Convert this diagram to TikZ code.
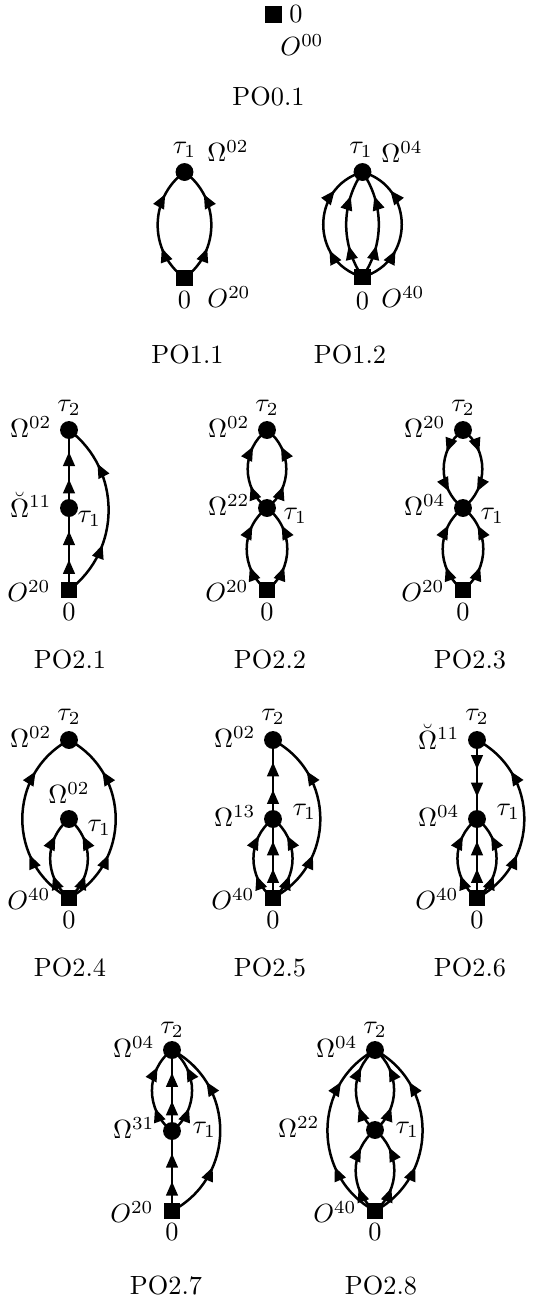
\documentclass[tikz,border=0pt]{standalone}
\usetikzlibrary{arrows.meta,decorations.markings}
\tikzset{
  dotnode/.style={circle,fill=black,inner sep=0pt,minimum size=6.8pt},
  sqnode/.style={rectangle,fill=black,inner sep=0pt,minimum size=6.4pt},
  lab/.style={inner sep=0pt},
  fl/.style={line width=0.95pt, postaction={decorate}, decoration={markings,
     mark=at position 0.31 with {\arrow{Triangle[length=5.4pt,width=4.4pt]}},
     mark=at position 0.76 with {\arrow{Triangle[length=5.4pt,width=4.4pt]}}}},
  flst/.style={line width=0.95pt, postaction={decorate}, decoration={markings,
     mark=at position 0.37 with {\arrow{Triangle[length=5.4pt,width=4.4pt]}},
     mark=at position 0.72 with {\arrow{Triangle[length=5.4pt,width=4.4pt]}}}},
}
% circular-looking arcs: #1 from, #2 to, #3 bend angle, #4 looseness
\newcommand{\arcL}[4]{\draw[fl] (#1.center) to[bend left=#3,looseness=#4] (#2.center);}
\newcommand{\arcR}[4]{\draw[fl] (#1.center) to[bend right=#3,looseness=#4] (#2.center);}
\newcommand{\strline}[2]{\draw[flst] (#1.center) -- (#2.center);}
\begin{document}
\begin{tikzpicture}[x=0.38pt,y=0.38pt]
\useasboundingbox (0,0) rectangle (536,-1302);

% PO0.1
\node[sqnode] (s0) at (273.5,-14.5) {};
\node[lab] (z0) at (296,-14) {$0$};
\node[lab] (o0) at (302,-45) {$O^{00}$};
\node[lab] (p01) at (268.5,-97) {PO0.1};

% PO1.1
\node[dotnode] (c1) at (184.5,-172) {};
\node[sqnode] (s1) at (184.5,-278) {};
\node[lab] at (184.5,-150) {$\tau_1$};
\node[lab] at (228,-151) {$\Omega^{02}$};
\node[lab] at (184.5,-300) {$0$};
\node[lab] at (229,-297) {$O^{20}$};
\node[lab] at (187.5,-355) {PO1.1};
\arcL{s1}{c1}{54}{1.07}
\arcR{s1}{c1}{54}{1.07}

% PO1.2
\node[dotnode] (c2) at (362.5,-172) {};
\node[sqnode] (s2) at (362.5,-277) {};
\node[lab] at (361,-150) {$\tau_1$};
\node[lab] at (402,-152) {$\Omega^{04}$};
\node[lab] at (362.5,-301) {$0$};
\node[lab] at (403,-297) {$O^{40}$};
\node[lab] at (350,-355) {PO1.2};
\arcL{s2}{c2}{74}{1.33}
\arcR{s2}{c2}{74}{1.33}
\arcL{s2}{c2}{34}{0.95}
\arcR{s2}{c2}{34}{0.95}

% PO2.1
\node[dotnode] (at) at (69,-430) {};
\node[dotnode] (am) at (69,-508) {};
\node[sqnode] (as) at (69,-590) {};
\node[lab] at (69,-408) {$\tau_2$};
\node[lab,anchor=east] at (52,-427) {$\Omega^{02}$};
\node[lab,anchor=east] at (52,-505) {$\breve{\Omega}^{11}$};
\node[lab,anchor=west] at (77,-519) {$\tau_1$};
\node[lab,anchor=east] at (51,-591) {$O^{20}$};
\node[lab] at (69,-612) {$0$};
\node[lab] at (70,-660) {PO2.1};
\strline{as}{am}
\strline{am}{at}
\arcR{as}{at}{53}{1.06}

% PO2.2
\node[dotnode] (bt) at (267,-430) {};
\node[dotnode] (bm) at (267,-508) {};
\node[sqnode] (bs) at (267,-590) {};
\node[lab] at (267,-408) {$\tau_2$};
\node[lab,anchor=east] at (250,-427) {$\Omega^{02}$};
\node[lab,anchor=east] at (250,-505) {$\Omega^{22}$};
\node[lab,anchor=west] at (283,-516) {$\tau_1$};
\node[lab,anchor=east] at (249,-591) {$O^{20}$};
\node[lab] at (267,-612) {$0$};
\node[lab] at (270,-660) {PO2.2};
\arcL{bs}{bm}{53}{1.06}
\arcR{bs}{bm}{53}{1.06}
\arcL{bm}{bt}{53}{1.06}
\arcR{bm}{bt}{53}{1.06}

% PO2.3
\node[dotnode] (ct) at (463,-430) {};
\node[dotnode] (cm) at (463,-508) {};
\node[sqnode] (cs) at (463,-590) {};
\node[lab] at (463,-408) {$\tau_2$};
\node[lab,anchor=east] at (446,-427) {$\Omega^{20}$};
\node[lab,anchor=east] at (446,-505) {$\Omega^{04}$};
\node[lab,anchor=west] at (480,-516) {$\tau_1$};
\node[lab,anchor=east] at (445,-591) {$O^{20}$};
\node[lab] at (463,-612) {$0$};
\node[lab] at (470,-660) {PO2.3};
\arcL{cs}{cm}{53}{1.06}
\arcR{cs}{cm}{53}{1.06}
\arcR{ct}{cm}{53}{1.06}
\arcL{ct}{cm}{53}{1.06}

% PO2.4
\node[dotnode] (dt) at (69,-740) {};
\node[dotnode] (dm) at (69,-819) {};
\node[sqnode] (ds) at (69,-898) {};
\node[lab] at (69,-717) {$\tau_2$};
\node[lab,anchor=east] at (52,-737) {$\Omega^{02}$};
\node[lab] at (69,-793) {$\Omega^{02}$};
\node[lab,anchor=west] at (87,-828) {$\tau_1$};
\node[lab,anchor=east] at (51,-899) {$O^{40}$};
\node[lab] at (69,-920) {$0$};
\node[lab] at (70,-968) {PO2.4};
\arcL{ds}{dt}{61.5}{1.15}
\arcR{ds}{dt}{61.5}{1.15}
\arcL{ds}{dm}{51}{1.05}
\arcR{ds}{dm}{51}{1.05}

% PO2.5
\node[dotnode] (et) at (273,-740) {};
\node[dotnode] (em) at (273,-819) {};
\node[sqnode] (es) at (273,-898) {};
\node[lab] at (273,-717) {$\tau_2$};
\node[lab,anchor=east] at (256,-737) {$\Omega^{02}$};
\node[lab,anchor=east] at (256,-816) {$\Omega^{13}$};
\node[lab,anchor=west] at (292,-812) {$\tau_1$};
\node[lab,anchor=east] at (255,-899) {$O^{40}$};
\node[lab] at (273,-920) {$0$};
\node[lab] at (270,-968) {PO2.5};
\strline{em}{et}
\arcL{es}{em}{53}{1.06}
\strline{es}{em}
\arcR{es}{em}{53}{1.06}
\arcR{es}{et}{62}{1.16}

% PO2.6
\node[dotnode] (ft) at (477,-740) {};
\node[dotnode] (fm) at (477,-819) {};
\node[sqnode] (fs) at (477,-898) {};
\node[lab] at (477,-717) {$\tau_2$};
\node[lab,anchor=east] at (460,-737) {$\breve{\Omega}^{11}$};
\node[lab,anchor=east] at (460,-816) {$\Omega^{04}$};
\node[lab,anchor=west] at (496,-812) {$\tau_1$};
\node[lab,anchor=east] at (459,-899) {$O^{40}$};
\node[lab] at (477,-920) {$0$};
\node[lab] at (470,-968) {PO2.6};
\strline{ft}{fm}
\arcL{fs}{fm}{53}{1.06}
\strline{fs}{fm}
\arcR{fs}{fm}{53}{1.06}
\arcR{fs}{ft}{62}{1.16}

% PO2.7
\node[dotnode] (gt) at (172,-1050) {};
\node[dotnode] (gm) at (172,-1131) {};
\node[sqnode] (gs) at (172,-1211) {};
\node[lab] at (172,-1030) {$\tau_2$};
\node[lab,anchor=east] at (155,-1047) {$\Omega^{04}$};
\node[lab,anchor=east] at (155,-1128) {$\Omega^{31}$};
\node[lab,anchor=west] at (192,-1130) {$\tau_1$};
\node[lab,anchor=east] at (154,-1212) {$O^{20}$};
\node[lab] at (172,-1232) {$0$};
\node[lab] at (166,-1285) {PO2.7};
\strline{gs}{gm}
\arcL{gm}{gt}{53}{1.06}
\strline{gm}{gt}
\arcR{gm}{gt}{53}{1.06}
\arcR{gs}{gt}{62}{1.16}

% PO2.8
\node[dotnode] (ht) at (375,-1050) {};
\node[dotnode] (hm) at (375,-1130) {};
\node[sqnode] (hs) at (375,-1211) {};
\node[lab] at (375,-1030) {$\tau_2$};
\node[lab,anchor=east] at (358,-1047) {$\Omega^{04}$};
\node[lab,anchor=east] at (320,-1127) {$\Omega^{22}$};
\node[lab,anchor=west] at (395,-1130) {$\tau_1$};
\node[lab,anchor=east] at (357,-1212) {$O^{40}$};
\node[lab] at (375,-1232) {$0$};
\node[lab] at (381,-1285) {PO2.8};
\arcL{hs}{hm}{51}{1.05}
\arcR{hs}{hm}{51}{1.05}
\arcL{hm}{ht}{51}{1.05}
\arcR{hm}{ht}{51}{1.05}
\arcL{hs}{ht}{61.5}{1.15}
\arcR{hs}{ht}{61.5}{1.15}
\end{tikzpicture}
\end{document}
